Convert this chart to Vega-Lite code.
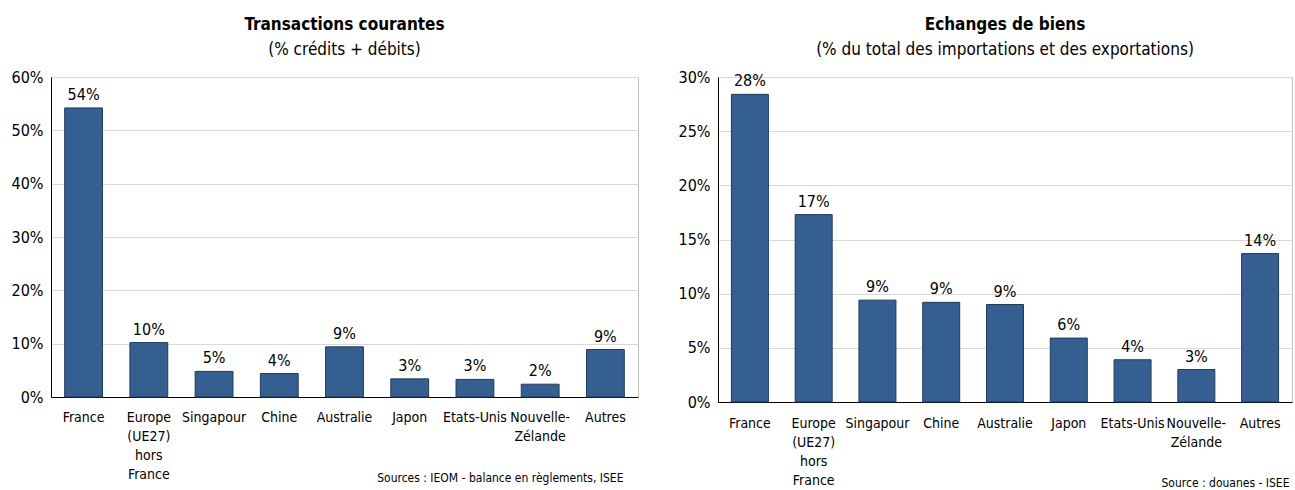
{
  "$schema": "https://vega.github.io/schema/vega-lite/v6.json",
  "background": "white",
  "padding": {"left": 10, "top": 15, "right": 5, "bottom": 0},
  "config": {
    "font": "DejaVu Sans Condensed, Liberation Sans, sans-serif",
    "view": {"stroke": "#c0c0c0", "strokeWidth": 1},
    "title": {"font": "DejaVu Sans Condensed, Liberation Sans, sans-serif", "fontSize": 17, "fontWeight": "bold", "color": "#000000", "subtitleFont": "DejaVu Sans Condensed, Liberation Sans, sans-serif", "subtitleFontSize": 17, "subtitleColor": "#000000", "subtitlePadding": 8, "offset": 10, "anchor": "middle"},
    "axis": {"labelFont": "DejaVu Sans Condensed, Liberation Sans, sans-serif", "labelColor": "#000000", "domainColor": "#000000", "ticks": false, "gridColor": "#d9d9d9"},
    "concat": {"spacing": 38}
  },
  "hconcat": [
    {
      "width": 587,
      "height": 320,
      "title": {"text": "Transactions courantes", "subtitle": "(% crédits + débits)"},
      "data": {"values": [
        {"pays": "France", "part": 0.542},
        {"pays": "Europe|(UE27)|hors|France", "part": 0.102},
        {"pays": "Singapour", "part": 0.048},
        {"pays": "Chine", "part": 0.044},
        {"pays": "Australie", "part": 0.094},
        {"pays": "Japon", "part": 0.034},
        {"pays": "Etats-Unis", "part": 0.033},
        {"pays": "Nouvelle-|Zélande", "part": 0.024},
        {"pays": "Autres", "part": 0.089}
      ]},
      "encoding": {
        "x": {"field": "pays", "type": "nominal", "sort": null, "scale": {"paddingInner": 0.42, "paddingOuter": 0.21},
          "axis": {"labelAngle": 0, "labelExpr": "split(datum.label, '|')", "labelFontSize": 14, "labelPadding": 13, "labelLineHeight": 19, "labelBaseline": "top", "grid": false,
            "title": "Sources : IEOM - balance en règlements, ISEE", "titleFontSize": 12, "titleFontWeight": "normal", "titleColor": "#000000", "titleAnchor": "end", "titleAlign": "right", "titleBaseline": "alphabetic", "titleX": 572, "titleY": 84}},
        "y": {"field": "part", "type": "quantitative", "scale": {"domain": [0, 0.6]},
          "axis": {"format": ".0%", "values": [0, 0.1, 0.2, 0.3, 0.4, 0.5, 0.6], "labelOverlap": false, "labelFontSize": 16, "labelPadding": 8, "title": null}}
      },
      "layer": [
        {"mark": {"type": "bar", "color": "#365f91", "stroke": "#22395a", "strokeWidth": 1}},
        {"mark": {"type": "text", "baseline": "bottom", "dy": -5, "fontSize": 16, "color": "#000000"},
          "encoding": {"text": {"field": "part", "type": "quantitative", "format": ".0%"}}}
      ]
    },
    {
      "width": 574,
      "height": 325,
      "title": {"text": "Echanges de biens", "subtitle": "(% du total des importations et des exportations)"},
      "data": {"values": [
        {"pays": "France", "part": 0.284},
        {"pays": "Europe|(UE27)|hors|France", "part": 0.173},
        {"pays": "Singapour", "part": 0.094},
        {"pays": "Chine", "part": 0.092},
        {"pays": "Australie", "part": 0.090},
        {"pays": "Japon", "part": 0.059},
        {"pays": "Etats-Unis", "part": 0.039},
        {"pays": "Nouvelle-|Zélande", "part": 0.030},
        {"pays": "Autres", "part": 0.137}
      ]},
      "encoding": {
        "x": {"field": "pays", "type": "nominal", "sort": null, "scale": {"paddingInner": 0.42, "paddingOuter": 0.21},
          "axis": {"labelAngle": 0, "labelExpr": "split(datum.label, '|')", "labelFontSize": 14, "labelPadding": 14, "labelLineHeight": 19, "labelBaseline": "top", "grid": false,
            "title": "Source : douanes - ISEE", "titleFontSize": 12, "titleFontWeight": "normal", "titleColor": "#000000", "titleAnchor": "end", "titleAlign": "right", "titleBaseline": "alphabetic", "titleX": 571, "titleY": 84}},
        "y": {"field": "part", "type": "quantitative", "scale": {"domain": [0, 0.3]},
          "axis": {"format": ".0%", "values": [0, 0.05, 0.1, 0.15, 0.2, 0.25, 0.3], "labelOverlap": false, "labelFontSize": 16, "labelPadding": 8, "title": null}}
      },
      "layer": [
        {"mark": {"type": "bar", "color": "#365f91", "stroke": "#22395a", "strokeWidth": 1}},
        {"mark": {"type": "text", "baseline": "bottom", "dy": -5, "fontSize": 16, "color": "#000000"},
          "encoding": {"text": {"field": "part", "type": "quantitative", "format": ".0%"}}}
      ]
    }
  ]
}
